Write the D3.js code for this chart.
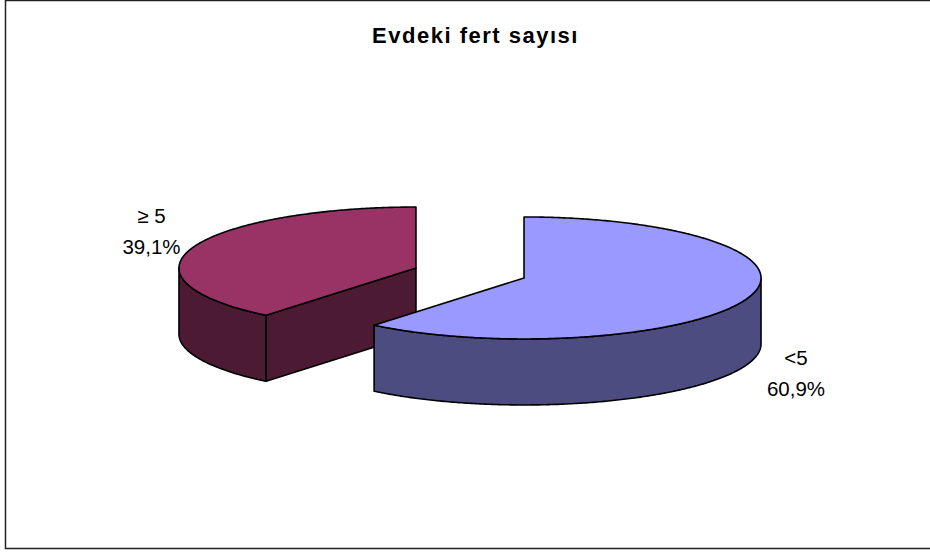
<!DOCTYPE html>
<html>
<head>
<meta charset="utf-8">
<script src="https://cdn.jsdelivr.net/npm/d3@7"></script>
<style>
  html, body { margin: 0; padding: 0; background: #fff; }
  svg { display: block; }
  text { font-family: "Liberation Sans", Arial, sans-serif; }
</style>
</head>
<body>
<svg id="chart" width="930" height="555"></svg>
<script>
// Household size shares
const categories = ["<5", "≥ 5"];
const values = [60.9, 39.1];
const valueLabels = ["60,9%", "39,1%"];
const topColors = ["#9999FF", "#993366"];
const sideColors = ["#4C4C80", "#4C1A33"];

const W = 930, H = 555;
const svg = d3.select("#chart");

// frame
svg.append("rect")
  .attr("x", 5.5).attr("y", 0.5)
  .attr("width", W).attr("height", 548)
  .attr("fill", "#fff").attr("stroke", "#222").attr("stroke-width", 1.5);

svg.append("text")
  .attr("x", 475.5).attr("y", 43)
  .attr("text-anchor", "middle")
  .attr("font-size", 22).attr("font-weight", "bold")
  .attr("letter-spacing", 1.5)
  .text("Evdeki fert sayısı");

// 3D pie geometry
const cx = 470, cy = 273, rx = 237, ry = 61, depth = 66, explode = 0.242;

const pie = d3.pie().sort(null).value(d => d.value).startAngle(0).endAngle(2 * Math.PI);
const data = categories.map((c, i) => ({ cat: c, value: values[i], label: valueLabels[i], top: topColors[i], side: sideColors[i] }));
const arcs = pie(data);

const proj = (c, a, dz = 0) => [c[0] + rx * Math.sin(a), c[1] - ry * Math.cos(a) + dz];
const arcPts = (c, a0, a1, dz = 0) => {
  const n = Math.max(2, Math.ceil(Math.abs(a1 - a0) / 0.01));
  return d3.range(n + 1).map(i => proj(c, a0 + (a1 - a0) * i / n, dz));
};
const line = d3.line();

arcs.forEach(d => {
  const mid = (d.startAngle + d.endAngle) / 2;
  d.center = [cx + explode * rx * Math.sin(mid), cy - explode * ry * Math.cos(mid)];
});

// back slices first
const order = arcs.slice().sort((a, b) => a.center[1] - b.center[1]);

const g = svg.append("g")
  .attr("stroke", "#000").attr("stroke-width", 1.6).attr("stroke-linejoin", "round");

order.forEach(d => {
  const c = d.center, a0 = d.startAngle, a1 = d.endAngle;
  // radial faces facing the viewer
  [[a0, a0 - Math.PI / 2], [a1, a1 + Math.PI / 2]].forEach(([a, n]) => {
    if (Math.cos(n) < -1e-6) {
      const p = proj(c, a), pb = proj(c, a, depth);
      const pts = [c, p, pb, [c[0], c[1] + depth]];
      g.append("path").attr("d", line(pts) + "Z").attr("fill", d.data.side);
    }
  });
  // outer curved wall, visible on the front half
  const s = Math.max(a0, Math.PI / 2), e = Math.min(a1, 3 * Math.PI / 2);
  if (e > s) {
    const pts = arcPts(c, s, e).concat(arcPts(c, e, s, depth));
    g.append("path").attr("d", line(pts) + "Z").attr("fill", d.data.side);
  }
  // top face
  const topPts = [c].concat(arcPts(c, a0, a1));
  g.append("path").attr("d", line(topPts) + "Z").attr("fill", d.data.top);
});

// labels
const labelPos = { "<5": [796, 365], "≥ 5": [151.5, 223] };
arcs.forEach(d => {
  const [x, y] = labelPos[d.data.cat];
  const t = svg.append("text").attr("text-anchor", "middle").attr("font-size", 20.5).attr("fill", "#000");
  t.append("tspan").attr("x", x).attr("y", y).text(d.data.cat);
  t.append("tspan").attr("x", x).attr("y", y + 31).text(d.data.label);
});
</script>
</body>
</html>
